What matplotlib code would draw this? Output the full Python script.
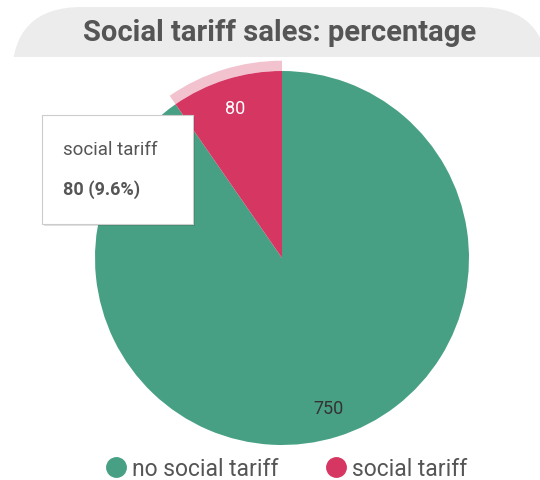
import matplotlib
matplotlib.use('Agg')
import matplotlib.pyplot as plt
from matplotlib.patches import Wedge, FancyBboxPatch, Rectangle
from matplotlib.lines import Line2D

# data
categories = ['no social tariff', 'social tariff']
values = [750, 80]
colors = ['#48a084', '#d63762']
title = 'Social tariff sales: percentage'

plt.rcParams['font.family'] = ['Roboto', 'DejaVu Sans']

W, H = 540, 481
fig = plt.figure(figsize=(W / 100, H / 100), dpi=100)

# background layer in pixel coords (title bar, tooltip)
bg = fig.add_axes([0, 0, 1, 1])
bg.set_xlim(0, W)
bg.set_ylim(H, 0)
bg.axis('off')

clip = Rectangle((0, 0), W, 58, transform=bg.transData, visible=False)
bg.add_patch(clip)
bar = FancyBboxPatch((12, 8), W - 4, 150, boxstyle='round,pad=0,rounding_size=70',
                     fc='#ececec', ec='none')
bg.add_patch(bar)
bar.set_clip_path(clip)
bg.text(W / 2 + 10, 33, title, ha='center', va='center', fontsize=21,
        fontweight='bold', color='#555555')

# pie
cx, cy, R = 282, 259, 187
ax = fig.add_axes([(cx - R) / W, (H - cy - R) / H, 2 * R / W, 2 * R / H])
wedges, texts = ax.pie(values, colors=colors, startangle=90, counterclock=False,
                       labels=[str(v) for v in values], labeldistance=0.84,
                       wedgeprops=dict(linewidth=0))
ax.set_xlim(-1, 1)
ax.set_ylim(-1, 1)
ax.set_aspect('equal')
texts[0].set_color('#333333')
texts[1].set_color('white')
for t in texts:
    t.set_fontsize(13)
    t.set_ha('center')
    t.set_va('center')

# hover ring on the highlighted slice
hw = wedges[1]
ax.add_patch(Wedge((0, 0), 1.055, hw.theta1, hw.theta2, width=0.055,
                   fc=colors[1], alpha=0.3, ec='none', clip_on=False))

# tooltip
total = sum(values)
tip = fig.add_axes([0, 0, 1, 1])
tip.set_xlim(0, W)
tip.set_ylim(H, 0)
tip.axis('off')
tip.add_patch(Rectangle((44, 118), 151, 109, fc='#000000', alpha=0.12, ec='none'))
tip.add_patch(Rectangle((42, 116), 151, 109, fc='white', ec='#cccccc', lw=0.8))
tip.text(63, 150, categories[1], fontsize=13.5, color='#555555', va='center')
tip.text(63, 190, f'{values[1]} ({values[1] / total * 100:.1f}%)', fontsize=13,
         fontweight='bold', color='#555555', va='center')

# legend
handles = [Line2D([], [], marker='o', ls='none', markersize=14, color=c) for c in colors]
fig.legend(handles, categories, loc='center', bbox_to_anchor=(0.53, (H - 470) / H),
           ncol=2, frameon=False, fontsize=16.5, labelcolor='#555555',
           handletextpad=0.2, columnspacing=2.0, handlelength=1.0, borderpad=0)

fig.savefig('out.png', dpi=100)
